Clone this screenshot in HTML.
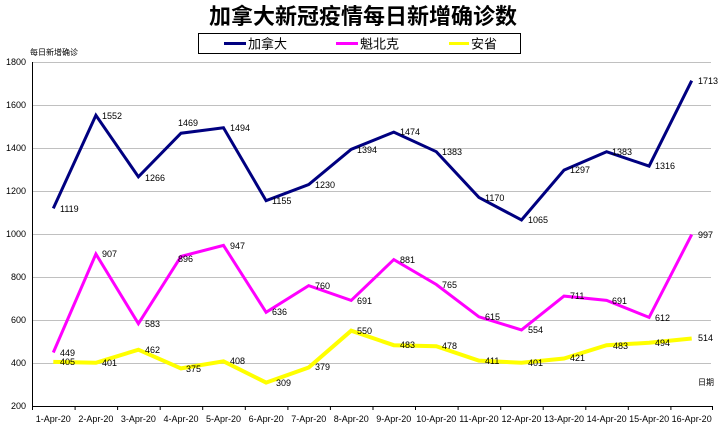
<!DOCTYPE html>
<html><head><meta charset="utf-8"><style>
body{margin:0;background:#fff}
svg{display:block;font-family:"Liberation Sans","Noto Sans CJK SC",sans-serif}
</style></head><body>
<svg width="726" height="426" viewBox="0 0 726 426">
<text x="363" y="24" text-anchor="middle" font-size="22" font-weight="bold" fill="#000">加拿大新冠疫情每日新增确诊数</text>
<rect x="198.5" y="33.5" width="322" height="20" fill="#fff" stroke="#000" stroke-width="1"/>
<line x1="224" y1="43.5" x2="246" y2="43.5" stroke="#000080" stroke-width="3"/>
<text x="248" y="48.5" font-size="13">加拿大</text>
<line x1="336" y1="43.5" x2="358" y2="43.5" stroke="#ff00ff" stroke-width="3"/>
<text x="360" y="48.5" font-size="13">魁北克</text>
<line x1="449" y1="43.5" x2="469" y2="43.5" stroke="#ffff00" stroke-width="3"/>
<text x="471" y="48.5" font-size="13">安省</text>
<text x="30" y="55" font-size="8">每日新增确诊</text>
<text x="698" y="385" font-size="8">日期</text>
<g stroke="#c0c0c0" stroke-width="1">
<line x1="32" y1="62.5" x2="711" y2="62.5"/>
<line x1="32" y1="105.5" x2="711" y2="105.5"/>
<line x1="32" y1="148.5" x2="711" y2="148.5"/>
<line x1="32" y1="191.5" x2="711" y2="191.5"/>
<line x1="32" y1="234.5" x2="711" y2="234.5"/>
<line x1="32" y1="277.5" x2="711" y2="277.5"/>
<line x1="32" y1="320.5" x2="711" y2="320.5"/>
<line x1="32" y1="363.5" x2="711" y2="363.5"/>
</g>
<g font-size="9" text-anchor="end">
<text x="26" y="65">1800</text><text x="26" y="108">1600</text><text x="26" y="151">1400</text>
<text x="26" y="194">1200</text><text x="26" y="237">1000</text><text x="26" y="280">800</text>
<text x="26" y="323">600</text><text x="26" y="366">400</text><text x="26" y="409">200</text>
</g>
<g stroke="#000" stroke-width="1">
<line x1="32.5" y1="62" x2="32.5" y2="406"/>
<line x1="32" y1="406.5" x2="713" y2="406.5"/>
<line x1="32.5" y1="406" x2="32.5" y2="410"/><line x1="75.1" y1="406" x2="75.1" y2="410"/><line x1="117.6" y1="406" x2="117.6" y2="410"/><line x1="160.2" y1="406" x2="160.2" y2="410"/><line x1="202.7" y1="406" x2="202.7" y2="410"/><line x1="245.3" y1="406" x2="245.3" y2="410"/><line x1="287.9" y1="406" x2="287.9" y2="410"/><line x1="330.4" y1="406" x2="330.4" y2="410"/><line x1="373" y1="406" x2="373" y2="410"/><line x1="415.5" y1="406" x2="415.5" y2="410"/><line x1="458.1" y1="406" x2="458.1" y2="410"/><line x1="500.7" y1="406" x2="500.7" y2="410"/><line x1="543.2" y1="406" x2="543.2" y2="410"/><line x1="585.8" y1="406" x2="585.8" y2="410"/><line x1="628.3" y1="406" x2="628.3" y2="410"/><line x1="670.9" y1="406" x2="670.9" y2="410"/><line x1="712.5" y1="406" x2="712.5" y2="410"/>
</g>
<g font-size="9" text-anchor="middle">
<text x="53.3" y="422">1-Apr-20</text><text x="95.9" y="422">2-Apr-20</text><text x="138.4" y="422">3-Apr-20</text><text x="181" y="422">4-Apr-20</text><text x="223.5" y="422">5-Apr-20</text><text x="266.1" y="422">6-Apr-20</text><text x="308.7" y="422">7-Apr-20</text><text x="351.2" y="422">8-Apr-20</text><text x="393.8" y="422">9-Apr-20</text><text x="436.3" y="422">10-Apr-20</text><text x="478.9" y="422">11-Apr-20</text><text x="521.5" y="422">12-Apr-20</text><text x="564" y="422">13-Apr-20</text><text x="606.6" y="422">14-Apr-20</text><text x="649.1" y="422">15-Apr-20</text><text x="691.7" y="422">16-Apr-20</text>
</g>
<g fill="none" stroke-linejoin="miter">
<polyline stroke="#ffff00" stroke-width="4" points="53.3,361.9 95.9,362.8 138.4,349.7 181,368.4 223.5,361.3 266.1,382.6 308.7,367.5 351.2,330.7 393.8,345.2 436.3,346.2 478.9,360.6 521.5,362.8 564,358.5 606.6,345.2 649.1,342.8 691.7,338.5"/>
<polyline stroke="#ff00ff" stroke-width="3" points="53.3,352.5 95.9,254 138.4,323.7 181,256.4 223.5,245.4 266.1,312.3 308.7,285.6 351.2,300.4 393.8,259.6 436.3,284.5 478.9,316.8 521.5,329.9 564,296.1 606.6,300.4 649.1,317.4 691.7,234.6"/>
<polyline stroke="#000080" stroke-width="3" points="53.3,208.4 95.9,115.3 138.4,176.8 181,133.2 223.5,127.8 266.1,200.7 308.7,184.5 351.2,149.3 393.8,132.1 436.3,151.7 478.9,197.4 521.5,220 564,170.1 606.6,151.7 649.1,166.1 691.7,80.7"/>
</g>
<g font-size="9" fill="#000">
<text x="60" y="212">1119</text><text x="102" y="119">1552</text><text x="145" y="181">1266</text><text x="178" y="126">1469</text><text x="230" y="131">1494</text><text x="272" y="204">1155</text><text x="315" y="188">1230</text><text x="357" y="153">1394</text><text x="400" y="135">1474</text><text x="442" y="155">1383</text><text x="485" y="201">1170</text><text x="528" y="223">1065</text><text x="570" y="173">1297</text><text x="612" y="155">1383</text><text x="655" y="169">1316</text><text x="698" y="84">1713</text>
<text x="60" y="356">449</text><text x="102" y="257">907</text><text x="145" y="327">583</text><text x="178" y="262">896</text><text x="230" y="249">947</text><text x="272" y="315">636</text><text x="315" y="289">760</text><text x="357" y="304">691</text><text x="400" y="263">881</text><text x="442" y="288">765</text><text x="485" y="320">615</text><text x="528" y="333">554</text><text x="570" y="299">711</text><text x="612" y="304">691</text><text x="655" y="321">612</text><text x="698" y="238">997</text>
<text x="60" y="365">405</text><text x="102" y="366">401</text><text x="145" y="353">462</text><text x="186" y="372">375</text><text x="230" y="364">408</text><text x="276" y="386">309</text><text x="315" y="370">379</text><text x="357" y="334">550</text><text x="400" y="348">483</text><text x="442" y="349">478</text><text x="485" y="364">411</text><text x="528" y="366">401</text><text x="570" y="361">421</text><text x="613" y="349">483</text><text x="655" y="346">494</text><text x="698" y="341">514</text>
</g>
</svg>
</body></html>
